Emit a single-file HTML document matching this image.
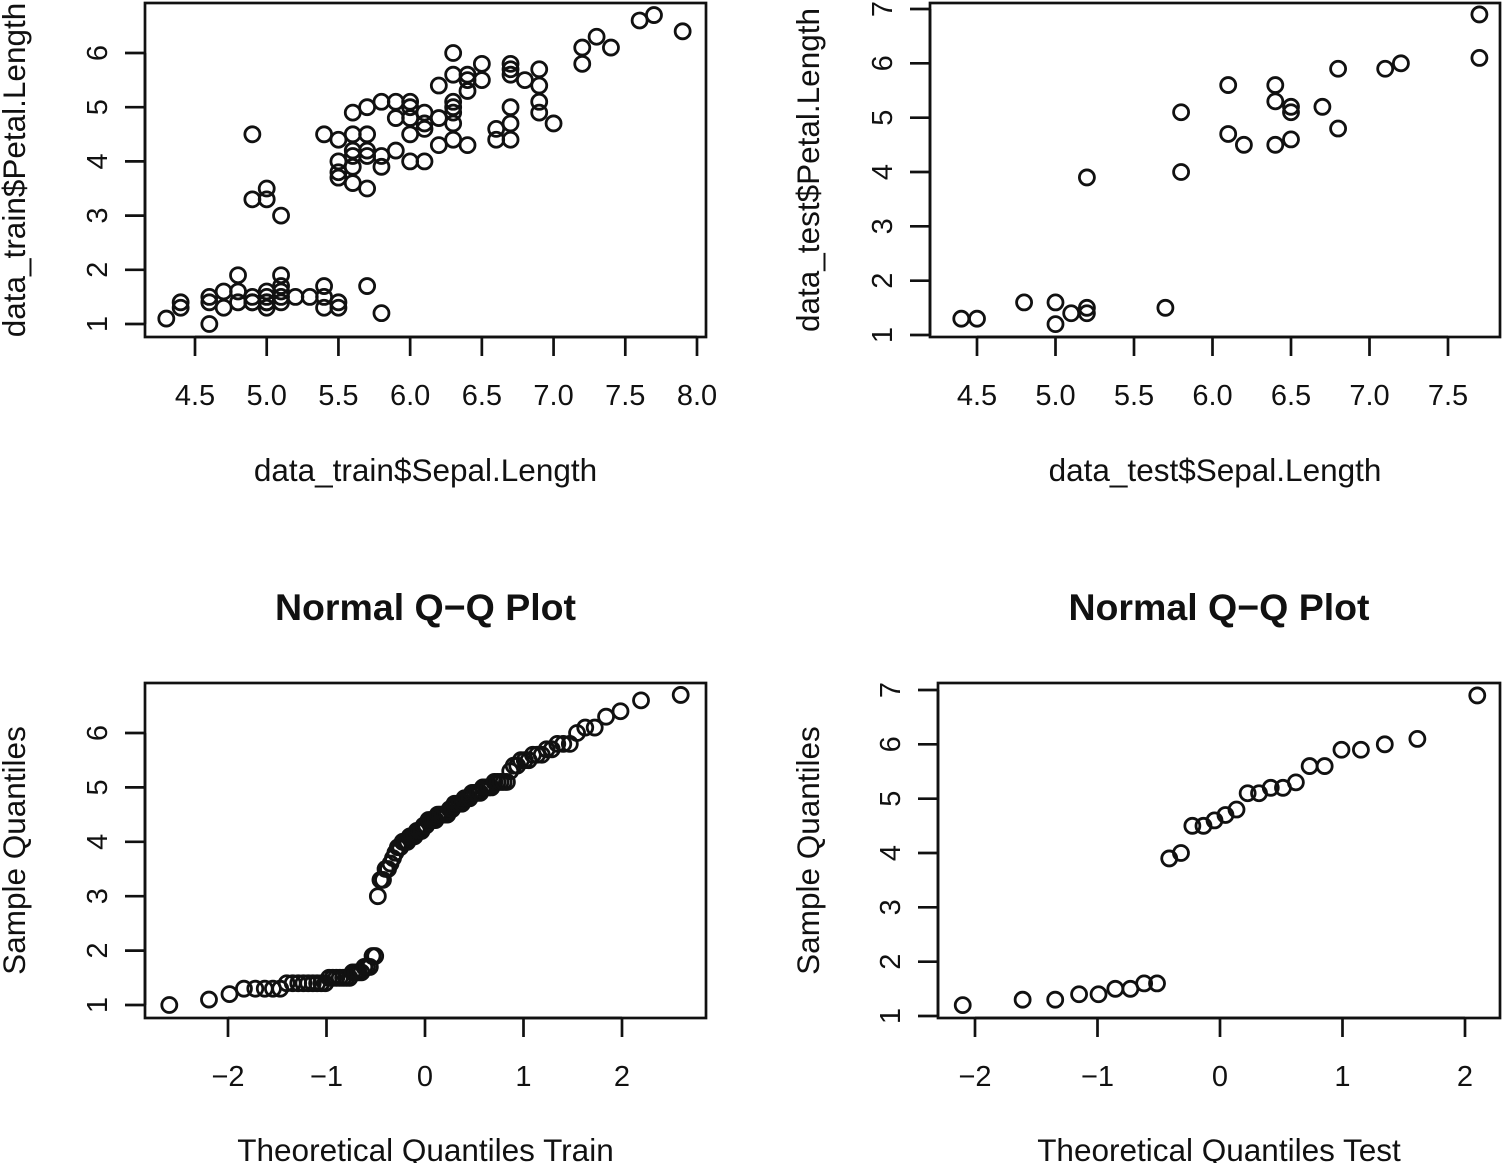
<!DOCTYPE html>
<html><head><meta charset="utf-8"><style>
body{margin:0;background:#fff}
svg{display:block}
text{font-family:"Liberation Sans",Arial,sans-serif;fill:#111}
</style></head><body>
<svg id="c" width="1504" height="1163" viewBox="0 0 1504 1163"></svg>
<script>
const trainSepal=[4.3,4.4,4.4,4.6,4.6,4.6,4.7,4.7,4.8,4.8,4.8,4.9,4.9,4.9,5.0,5.0,5.0,5.0,5.0,5.1,5.1,5.1,5.1,5.1,5.2,5.3,5.4,5.4,5.4,5.5,5.5,5.7,5.8,
4.9,4.9,5.0,5.0,5.1,5.4,5.5,5.5,5.5,5.5,5.6,5.6,5.6,5.6,5.6,5.6,5.7,5.7,5.7,5.7,5.7,5.8,5.8,5.8,5.9,5.9,5.9,6.0,6.0,6.0,6.0,6.0,6.1,6.1,6.1,6.1,6.2,6.2,6.2,6.3,6.3,6.3,6.3,6.3,6.3,6.3,6.4,6.4,6.4,6.4,6.5,6.5,6.6,6.6,6.7,6.7,6.7,6.7,6.7,6.7,6.8,6.9,6.9,6.9,6.9,7.0,7.2,7.2,7.3,7.4,7.6,7.7,7.9];
const trainPetal=[1.1,1.3,1.4,1.0,1.4,1.5,1.3,1.6,1.9,1.4,1.6,1.4,1.5,1.4,1.3,1.4,1.5,1.6,1.4,1.5,1.4,1.6,1.7,1.9,1.5,1.5,1.3,1.5,1.7,1.3,1.4,1.7,1.2,
4.5,3.3,3.3,3.5,3.0,4.5,4.4,4.0,3.8,3.7,4.9,4.5,4.2,4.1,3.9,3.6,5.0,4.5,4.2,4.1,3.5,5.1,4.1,3.9,5.1,4.8,4.2,5.1,5.0,4.8,4.5,4.0,4.9,4.7,4.6,4.0,5.4,4.8,4.3,6.0,5.6,5.1,5.0,4.9,4.7,4.4,5.6,5.5,5.3,4.3,5.8,5.5,4.6,4.4,5.8,5.7,5.6,5.0,4.7,4.4,5.5,5.7,5.4,5.1,4.9,4.7,6.1,5.8,6.3,6.1,6.6,6.7,6.4];
const testSepal=[4.4,4.5,4.8,5.0,5.0,5.1,5.2,5.2,5.2,5.7,5.8,5.8,6.1,6.1,6.2,6.4,6.4,6.4,6.5,6.5,6.5,6.7,6.8,6.8,7.1,7.2,7.7,7.7];
const testPetal=[1.3,1.3,1.6,1.6,1.2,1.4,1.5,1.4,3.9,1.5,5.1,4.0,5.6,4.7,4.5,5.6,5.3,4.5,5.2,5.1,4.6,5.2,5.9,4.8,5.9,6.0,6.9,6.1];
const xTicksTrain=[4.5,5.0,5.5,6.0,6.5,7.0,7.5,8.0];
const xTicksTest=[4.5,5.0,5.5,6.0,6.5,7.0,7.5];
const yTicksTrain=[1,2,3,4,5,6];
const yTicksTest=[1,2,3,4,5,6,7];
const qqTicks=[-2,-1,0,1,2];

const NS="http://www.w3.org/2000/svg",svg=document.getElementById('c');
function el(t,a,txt){const e=document.createElementNS(NS,t);for(const k in a)e.setAttribute(k,a[k]);if(txt!==undefined)e.textContent=txt;svg.appendChild(e);return e;}
function lin(d0,d1,p0,p1){return v=>p0+(v-d0)*(p1-p0)/(d1-d0);}
function qnorm(p){const a=[-39.69683028665376,220.9460984245205,-275.9285104469687,138.357751867269,-30.66479806614716,2.506628277459239],b=[-54.47609879822406,161.5858368580409,-155.6989798598866,66.80131188771972,-13.28068155288572],c=[-0.007784894002430293,-0.3223964580411365,-2.400758277161838,-2.549732539343734,4.374664141464968,2.938163982698783],d=[0.007784695709041462,0.3224671290700398,2.445134137142996,3.754408661907416];let q,r;
if(p<0.02425){q=Math.sqrt(-2*Math.log(p));return(((((c[0]*q+c[1])*q+c[2])*q+c[3])*q+c[4])*q+c[5])/((((d[0]*q+d[1])*q+d[2])*q+d[3])*q+1);}
if(p>1-0.02425){q=Math.sqrt(-2*Math.log(1-p));return-(((((c[0]*q+c[1])*q+c[2])*q+c[3])*q+c[4])*q+c[5])/((((d[0]*q+d[1])*q+d[2])*q+d[3])*q+1);}
q=p-0.5;r=q*q;return(((((a[0]*r+a[1])*r+a[2])*r+a[3])*r+a[4])*r+a[5])*q/(((((b[0]*r+b[1])*r+b[2])*r+b[3])*r+b[4])*r+1);}
function qq(v){const s=v.slice().sort((x,y)=>x-y),n=s.length,a=n<=10?3/8:0.5;return{x:s.map((_,i)=>qnorm((i+1-a)/(n+1-2*a))),y:s};}

function panel(o){
  const X=lin(o.xd[0],o.xd[1],o.xp[0],o.xp[1]),Y=lin(o.yd[0],o.yd[1],o.yp[0],o.yp[1]);
  const b=o.box;
  let r=el('rect',{x:b[0],y:b[1],width:b[2]-b[0],height:b[3]-b[1],fill:'none',stroke:'#111','stroke-width':2.7});
  
  o.xt.forEach(t=>{const x=X(t);el('line',{x1:x,x2:x,y1:b[3],y2:b[3]+19,stroke:'#111','stroke-width':2.7});
    const tx=el('text',{x:x,y:b[3]+68,'text-anchor':'middle','font-size':29},o.xfmt(t));
    });
  el('line',{x1:X(o.xt[0]),x2:X(o.xt[o.xt.length-1]),y1:b[3],y2:b[3],stroke:'#111','stroke-width':2.7});
  o.yt.forEach(t=>{const y=Y(t);el('line',{x1:b[0]-20,x2:b[0],y1:y,y2:y,stroke:'#111','stroke-width':2.7});
    const tx=el('text',{x:b[0]-48,y:y,'text-anchor':'middle','font-size':29,transform:`rotate(-90 ${b[0]-48} ${y})`,dy:10},String(t));
    });
  el('line',{x1:b[0],x2:b[0],y1:Y(o.yt[0]),y2:Y(o.yt[o.yt.length-1]),stroke:'#111','stroke-width':2.7});
  for(let i=0;i<o.xs.length;i++){const c=el('circle',{cx:X(o.xs[i]),cy:Y(o.ys[i]),r:7.5,fill:'none',stroke:'#111','stroke-width':2.8});
    }
  const cx=(b[0]+b[2])/2;
  const xl=el('text',{x:cx,y:o.xlY,'text-anchor':'middle','font-size':31.5},o.xlab);
  
  const cy=(b[1]+b[3])/2,lx=o.ylX;
  const yl=el('text',{x:lx,y:cy,'text-anchor':'middle','font-size':31.5,transform:`rotate(-90 ${lx} ${cy})`},o.ylab);
  
  if(o.title){const t=el('text',{x:cx,y:620,'text-anchor':'middle','font-size':37.5,'font-weight':'bold'},o.title);
    }
}
const f1=v=>v.toFixed(1),fi=v=>v<0?'\u2212'+Math.abs(v):String(v);
panel({name:'train-scatter',box:[145,3,706,337],xd:[4.5,8],xp:[195,697],yd:[1,6],yp:[324,53],xt:xTicksTrain,yt:yTicksTrain,xs:trainSepal,ys:trainPetal,xfmt:f1,xlab:'data_train$Sepal.Length',ylab:'data_train$Petal.Length',xlY:481,ylX:25});
panel({name:'test-scatter',box:[930,3,1500,337],xd:[4.5,7.5],xp:[977,1448],yd:[1,7],yp:[335,9],xt:xTicksTest,yt:yTicksTest,xs:testSepal,ys:testPetal,xfmt:f1,xlab:'data_test$Sepal.Length',ylab:'data_test$Petal.Length',xlY:481,ylX:819});
const q1=qq(trainPetal),q2=qq(testPetal);
panel({name:'train-qq',box:[145,683,706,1018],xd:[-2,2],xp:[228,622],yd:[1,6],yp:[1005,733],xt:qqTicks,yt:yTicksTrain,xs:q1.x,ys:q1.y,xfmt:fi,xlab:'Theoretical Quantiles Train',ylab:'Sample Quantiles',xlY:1161,ylX:25,title:'Normal Q\u2212Q Plot'});
panel({name:'test-qq',box:[938,683,1500,1018],xd:[-2,2],xp:[975,1465],yd:[1,7],yp:[1016,690],xt:qqTicks,yt:yTicksTest,xs:q2.x,ys:q2.y,xfmt:fi,xlab:'Theoretical Quantiles Test',ylab:'Sample Quantiles',xlY:1161,ylX:819,title:'Normal Q\u2212Q Plot'});
</script>
</body></html>
